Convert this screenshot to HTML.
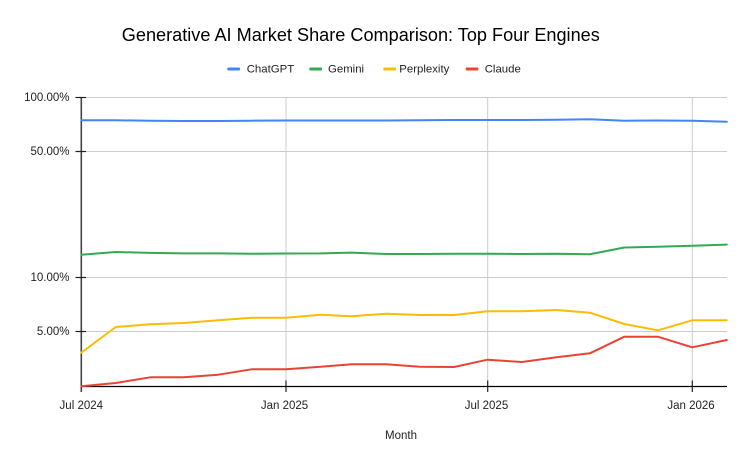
<!DOCTYPE html>
<html><head><meta charset="utf-8"><style>
html,body{margin:0;padding:0;background:#fff;}
svg{display:block;font-family:"Liberation Sans",Arial,sans-serif;}
</style></head><body>
<svg width="750" height="465" viewBox="0 0 750 465" xmlns="http://www.w3.org/2000/svg">
<rect width="750" height="465" fill="#fff"/>
<text x="360.8" y="41" font-size="18" text-anchor="middle" fill="#000" textLength="478" lengthAdjust="spacingAndGlyphs">Generative AI Market Share Comparison: Top Four Engines</text>
<!-- legend -->
<g font-size="11.4" fill="#222">
<rect x="227.3" y="67.5" width="12.7" height="3" rx="1" fill="#4285F4"/>
<text x="246.7" y="72.7">ChatGPT</text>
<rect x="309.3" y="67.5" width="12.7" height="3" rx="1" fill="#34A853"/>
<text x="328" y="72.7">Gemini</text>
<rect x="383.3" y="67.5" width="12.7" height="3" rx="1" fill="#FBBC04"/>
<text x="399.3" y="72.7">Perplexity</text>
<rect x="465.7" y="67.5" width="12.7" height="3" rx="1" fill="#EA4335"/>
<text x="484.7" y="72.7">Claude</text>
</g>
<!-- gridlines -->
<g stroke="#cccccc" stroke-width="1">
<line x1="81" y1="97.5" x2="727" y2="97.5"/>
<line x1="81" y1="151.5" x2="727" y2="151.5"/>
<line x1="81" y1="277.5" x2="727" y2="277.5"/>
<line x1="81" y1="331.5" x2="727" y2="331.5"/>
<line x1="286" y1="97" x2="286" y2="386"/>
<line x1="487.7" y1="97" x2="487.7" y2="386"/>
<line x1="692.3" y1="97" x2="692.3" y2="386"/>
</g>
<!-- axes -->
<line x1="81.3" y1="97" x2="81.3" y2="392" stroke="#444" stroke-width="1.6"/>
<line x1="81" y1="386.5" x2="727" y2="386.5" stroke="#000" stroke-width="1.2"/>
<g stroke="#222" stroke-width="1.2">
<line x1="75.5" y1="97.5" x2="86" y2="97.5"/>
<line x1="75.5" y1="151.5" x2="86" y2="151.5"/>
<line x1="75.5" y1="277.5" x2="86" y2="277.5"/>
<line x1="75.5" y1="331.5" x2="86" y2="331.5"/>
<line x1="286" y1="380.5" x2="286" y2="392"/>
<line x1="487.7" y1="380.5" x2="487.7" y2="392"/>
<line x1="692.3" y1="380.5" x2="692.3" y2="392"/>
</g>
<!-- y labels -->
<g font-size="11.5" fill="#222" text-anchor="end">
<text x="69.5" y="101">100.00%</text>
<text x="69.5" y="155">50.00%</text>
<text x="69.5" y="281">10.00%</text>
<text x="69.5" y="335">5.00%</text>
</g>
<!-- x labels -->
<g font-size="11.5" fill="#222" text-anchor="middle">
<text x="81.3" y="409">Jul 2024</text>
<text x="284.5" y="409">Jan 2025</text>
<text x="486.5" y="409">Jul 2025</text>
<text x="691" y="409">Jan 2026</text>
<text x="401" y="439">Month</text>
</g>
<!-- series -->
<g fill="none" stroke-width="2" stroke-linejoin="round" stroke-linecap="round">
<polyline stroke="#4285F4" points="81.3,120.3 115.8,120.3 150.3,120.7 183.7,121 218.2,121 251.6,120.7 286.1,120.5 320.6,120.5 351.7,120.5 386.2,120.5 419.6,120.3 454.1,120 487.5,120 522,120 556.5,119.8 589.9,119.2 624.4,120.7 657.8,120.5 692.3,120.8 726.8,121.7"/>
<polyline stroke="#34A853" points="81.3,254.7 115.8,252 150.3,252.9 183.7,253.4 218.2,253.4 251.6,253.8 286.1,253.5 320.6,253.4 351.7,252.6 386.2,254 419.6,254 454.1,253.7 487.5,253.7 522,254 556.5,253.7 589.9,254.2 624.4,247.5 657.8,246.7 692.3,245.8 726.8,244.6"/>
<polyline stroke="#FBBC04" points="81.3,352.7 115.8,327 150.3,324.3 183.7,323 218.2,320.3 251.6,317.7 286.1,317.7 320.6,314.7 351.7,316.3 386.2,313.7 419.6,315 454.1,315 487.5,311.3 522,311.3 556.5,310 589.9,312.7 624.4,324 657.8,330.3 692.3,320.3 726.8,320.3"/>
<polyline stroke="#EA4335" points="81.3,386.3 115.8,383 150.3,377.3 183.7,377.3 218.2,374.7 251.6,369.3 286.1,369.3 320.6,366.7 351.7,364.3 386.2,364.3 419.6,366.7 454.1,367 487.5,359.7 522,362 556.5,357.3 589.9,353.3 624.4,336.7 657.8,336.7 692.3,347.3 726.8,340"/>
</g>
</svg>
</body></html>
